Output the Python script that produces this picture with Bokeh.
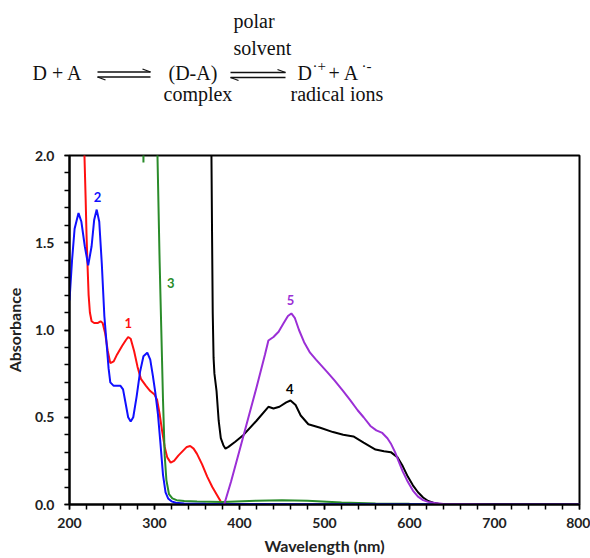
from bokeh.plotting import figure
from bokeh.layouts import column
from bokeh.models import Range1d, SingleIntervalTicker, NumeralTickFormatter
from bokeh.core.properties import value
from bokeh.embed import file_html
from bokeh.resources import INLINE

# ---------------- data ----------------
wl_1 = [216, 217.6, 219, 220, 221, 222.5, 224, 226, 229, 233, 236.5, 239, 242, 245, 248, 252,
        256, 262, 266, 269, 272, 276, 280, 284, 290, 295, 300, 303, 306, 309, 312, 315, 319,
        323, 328, 334, 338, 342, 346, 350, 356, 362, 368, 374, 380]
abs_1 = [2.3, 2.0, 1.75, 1.55, 1.4, 1.2, 1.1, 1.05, 1.04, 1.04, 1.05, 1.04, 0.98, 0.88, 0.81, 0.82,
         0.86, 0.91, 0.94, 0.96, 0.95, 0.88, 0.79, 0.72, 0.68, 0.65, 0.63, 0.60, 0.52, 0.42, 0.33, 0.27, 0.24,
         0.25, 0.28, 0.31, 0.33, 0.335, 0.32, 0.29, 0.23, 0.16, 0.10, 0.05, 0.0]

wl_2 = [200, 203, 206, 210.6, 214, 218, 222, 226, 229, 232, 235, 238, 241, 244, 246, 248, 252,
        256, 260, 263, 266, 269, 272, 275, 279, 283, 287, 291.5, 295, 298, 301, 304, 307, 310,
        313, 316, 320, 325, 335, 360, 400, 500, 600, 650, 800]
abs_2 = [1.17, 1.40, 1.58, 1.67, 1.62, 1.48, 1.37, 1.48, 1.63, 1.69, 1.62, 1.38, 1.08, 0.90, 0.78, 0.70, 0.68,
         0.68, 0.68, 0.66, 0.58, 0.50, 0.475, 0.50, 0.62, 0.76, 0.85, 0.87, 0.83, 0.74, 0.64, 0.52, 0.35, 0.17,
         0.07, 0.035, 0.018, 0.01, 0.006, 0.004, 0.003, 0.002, 0.002, 0.001, 0.001]

wl_3 = [286.5, 287, 287.5, 300, 303.5, 306, 308, 310, 312, 314, 317, 321, 326, 335, 350, 380,
        420, 450, 480, 520, 560, 600, 700, 800]
abs_3 = [2.4, 1.96, 2.4, 2.6, 2.0, 1.4, 1.0, 0.6, 0.28, 0.14, 0.06, 0.035, 0.025, 0.02, 0.017, 0.015,
         0.022, 0.025, 0.022, 0.012, 0.006, 0.004, 0.003, 0.003]

wl_4 = [366.5, 367, 367.8, 368.5, 369.5, 370.5, 373, 375.5, 378, 381, 383.5, 387, 395, 405, 420,
        434, 440, 447, 455, 460, 466, 472, 481, 495, 510, 522, 534, 546, 560, 570, 578, 586, 592,
        598, 604, 610, 616, 622, 628, 634, 640, 700, 800]
abs_4 = [2.2, 2.0, 1.5, 1.1, 0.84, 0.75, 0.65, 0.48, 0.38, 0.34, 0.32, 0.33, 0.36, 0.40, 0.48,
         0.56, 0.55, 0.56, 0.585, 0.596, 0.57, 0.51, 0.46, 0.44, 0.415, 0.40, 0.39, 0.355, 0.315, 0.305, 0.30,
         0.27, 0.22, 0.16, 0.11, 0.07, 0.04, 0.02, 0.01, 0.004, 0.001, 0.0, 0.0]

wl_5 = [382, 390, 400, 410, 420, 430, 434, 440, 446, 452, 457, 461, 465, 470, 476, 483, 490,
        503, 512, 522, 530, 539, 546, 554, 561, 568, 574, 578, 583, 587, 592, 598, 604, 610, 616,
        622, 630, 640, 700, 800]
abs_5 = [0.0, 0.13, 0.31, 0.49, 0.67, 0.86, 0.94, 0.96, 0.99, 1.04, 1.08, 1.095, 1.07, 1.0, 0.93, 0.87,
         0.83, 0.76, 0.71, 0.65, 0.60, 0.54, 0.50, 0.45, 0.425, 0.41, 0.38, 0.35, 0.30, 0.25, 0.19, 0.13,
         0.08, 0.045, 0.025, 0.015, 0.008, 0.003, 0.0, 0.0]

series_names = ["1", "2", "3", "4", "5"]
series_colors = ["#ff1010", "#1010ff", "#2a8c2a", "#000000", "#9b2fd6"]
label_wl = [269, 233, 319, 459, 460]
label_abs = [1.04, 1.76, 1.27, 0.66, 1.17]

x_ticks_interval = 100
y_ticks_interval = 0.5

# ---------------- top: reaction scheme (coordinates in page pixels) ----------------
top = figure(width=590, height=135, x_range=Range1d(69, 579), y_range=Range1d(135, 0),
             output_backend="svg", toolbar_location=None,
             min_border_left=69, min_border_right=11, min_border_top=0, min_border_bottom=0,
             x_axis_type=None, y_axis_type=None)
try:
    top.frame_align = False
    top.min_border_left = 0
    top.min_border_right = 0
    top.x_range = Range1d(0, 590)
except Exception:
    pass
top.outline_line_color = None
top.xgrid.visible = False
top.ygrid.visible = False

serif = value("Liberation Serif")
dy = -8
top.text(x=[32, 168, 297, 328, 233, 233, 163, 290],
         y=[80 + dy, 80 + dy, 80 + dy, 80 + dy, 28 + dy, 55 + dy, 101 + dy, 101 + dy],
         text=["D + A", "(D-A)", "D", "+ A", "polar", "solvent", "complex", "radical ions"],
         text_font=serif, text_font_size="20px", text_baseline="alphabetic",
         text_align="left", text_color="#111111")
top.text(x=[312, 361], y=[73 + dy, 73 + dy], text=["·+", "·-"],
         text_font=serif, text_font_size="15px", text_baseline="alphabetic",
         text_align="left", text_color="#111111")
# equilibrium harpoons
top.segment(x0=[97, 150, 97, 97, 230, 285, 230, 230],
            y0=[71.5, 71.5, 76.5, 76.5, 72, 72, 77, 77],
            x1=[150, 142, 150, 105, 285, 277, 285, 238],
            y1=[71.5, 68.5, 76.5, 79.5, 72, 69, 77, 80],
            line_color="#111111", line_width=1.3)

# ---------------- bottom: spectra ----------------
p = figure(width=590, height=423, x_range=Range1d(200, 800), y_range=Range1d(0, 2.0),
           output_backend="svg", toolbar_location=None,
           min_border_left=69, min_border_right=11, min_border_top=20, min_border_bottom=54,
           x_axis_label="Wavelength (nm)", y_axis_label="Absorbance")
try:
    p.frame_align = False
except Exception:
    pass
p.xgrid.visible = False
p.ygrid.visible = False
p.outline_line_color = "black"
p.outline_line_width = 2

p.xaxis.ticker = SingleIntervalTicker(interval=x_ticks_interval, num_minor_ticks=5)
p.yaxis.ticker = SingleIntervalTicker(interval=y_ticks_interval, num_minor_ticks=5)
p.yaxis.formatter = NumeralTickFormatter(format="0.0")

for ax in p.axis:
    ax.axis_line_width = 2
    ax.axis_line_color = "black"
    ax.major_tick_in = 0
    ax.major_tick_out = 5
    ax.minor_tick_in = 0
    ax.minor_tick_out = 5
    ax.major_tick_line_width = 1.5
    ax.minor_tick_line_width = 1.5
    ax.major_tick_line_color = "black"
    ax.minor_tick_line_color = "black"
    ax.major_label_text_font = "Lato"
    ax.major_label_text_font_style = "bold"
    ax.major_label_text_font_size = "14px"
    ax.major_label_text_color = "#222222"
    ax.axis_label_text_font = "Lato"
    ax.axis_label_text_font_style = "bold"
    ax.axis_label_text_font_size = "16px"
    ax.axis_label_text_color = "#222222"
p.xaxis.major_label_standoff = 8
p.xaxis.axis_label_standoff = 5
p.yaxis.major_label_standoff = 10
p.yaxis.axis_label_standoff = 8

wls = [wl_1, wl_2, wl_3, wl_4, wl_5]
absv = [abs_1, abs_2, abs_3, abs_4, abs_5]
for i in [0, 2, 1, 3, 4]:
    p.line(wls[i], absv[i], line_color=series_colors[i], line_width=2)

p.text(x=label_wl, y=label_abs, text=series_names, text_color=series_colors,
       text_font=value("Lato"), text_font_style="bold", text_font_size="13px",
       text_align="center", text_baseline="middle")

layout = column(top, p, spacing=0)
open("out.html", "w").write(file_html(layout, INLINE))
